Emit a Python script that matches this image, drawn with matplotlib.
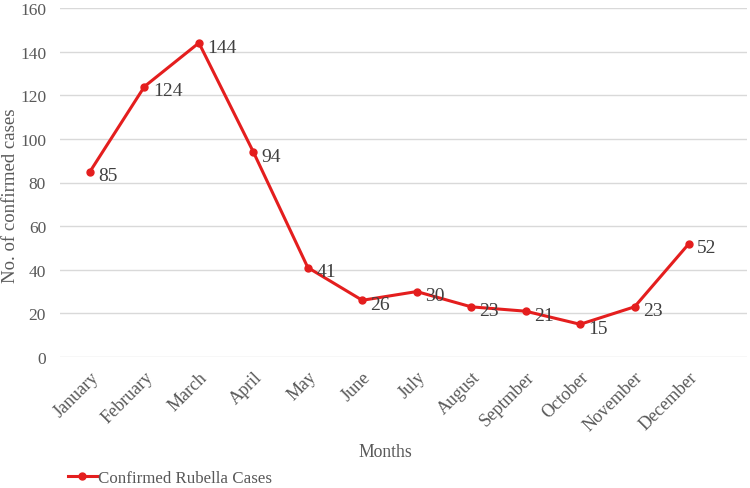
import matplotlib
matplotlib.use("Agg")
import matplotlib.pyplot as plt

months = ["January", "February", "March", "April", "May", "June", "July",
          "August", "Septmber", "October", "November", "December"]
cases = [85, 124, 144, 94, 41, 26, 30, 23, 21, 15, 23, 52]
yticks = [0, 20, 40, 60, 80, 100, 120, 140, 160]

plt.rcParams['font.family'] = ['Liberation Serif', 'DejaVu Serif']

fig = plt.figure(figsize=(7.5, 4.89), dpi=100)
ax = fig.add_axes([60/750, 1-358/489, (747-60)/750, (358-9)/489])

x = list(range(len(months)))
line, = ax.plot(x, cases, color='#E41E1E', lw=2.2, marker='o', ms=5,
                label='Confirmed Rubella Cases')
for xi, v in zip(x, cases):
    ax.annotate(str(v), (xi, v), xytext=(6, -3), textcoords='offset points',
                ha='left', va='center', fontsize=14, color='#404040')

ax.set_xlim(-0.551, 12.065)
ax.set_ylim(0, 160)
ax.set_yticks(yticks)
ax.set_xticks(x)
ax.set_xticklabels(months, rotation=45, ha='right', rotation_mode='anchor',
                   fontsize=13, color='#595959')
ax.tick_params(axis='y', labelsize=12.5, labelcolor='#595959', length=0, pad=10)
ax.tick_params(axis='x', length=0, pad=8)
ax.grid(axis='y', color='#D9D9D9', lw=1)
ax.set_axisbelow(True)
for s in ax.spines.values():
    s.set_visible(False)

fig.text(11/750, 1-196/489, 'No. of confirmed cases', rotation=90, ha='center',
         va='center', fontsize=13.5, color='#595959')
fig.text(385/750, 1-453/489, 'Months', ha='center', va='center', fontsize=12.7, color='#595959')
fig.legend(handles=[line], loc='center left', bbox_to_anchor=(68/750, 1-479/489),
           frameon=False, fontsize=12.2, handlelength=1.7, handletextpad=0.05,
           borderaxespad=0, borderpad=0, labelcolor='#595959')
fig.savefig('out.png', dpi=100)
